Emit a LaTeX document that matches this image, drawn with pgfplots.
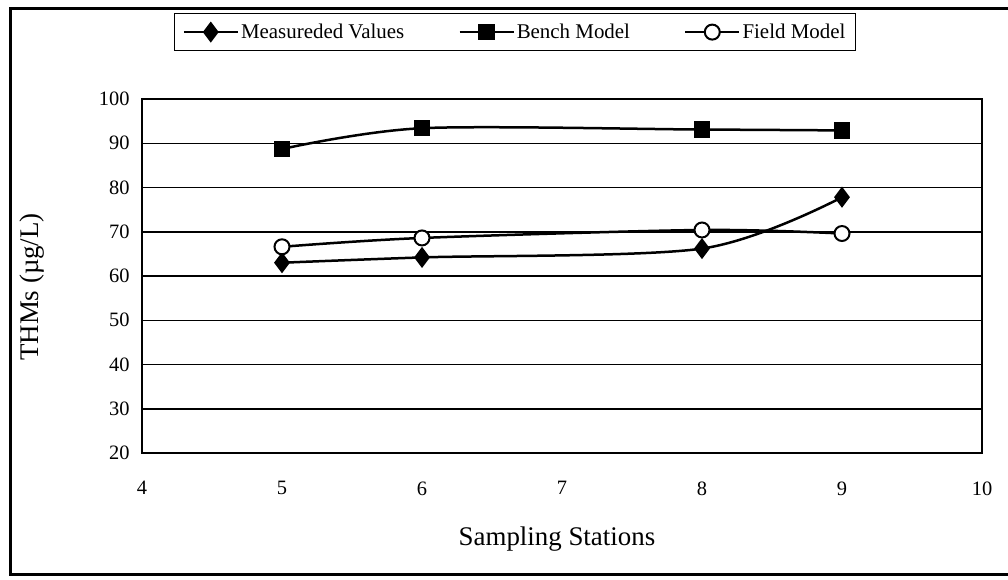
\documentclass[border=0pt]{standalone}
\usepackage{pgfplots}
\pgfplotsset{compat=1.18}
\usepackage{fontspec}
\setmainfont{Liberation Serif}
\begin{document}
\begin{tikzpicture}
\useasboundingbox (0,0) rectangle (1008bp,580bp);
\draw[line width=3bp] (1008bp,571bp) -- (10bp,571bp) -- (10bp,5bp) -- (1008bp,5bp);
\begin{axis}[
  at={(142bp,127bp)}, anchor=south west,
  scale only axis, width=840bp, height=354bp,
  xmin=4, xmax=10, ymin=20, ymax=100,
  xtick={4,5,6,7,8,9,10}, ytick={20,30,40,50,60,70,80,90,100},
  major tick length=0pt,
  ymajorgrids, grid style={black, line width=1.5bp},
  axis line style={line width=2bp},
  tick label style={font=\fontsize{20.5}{22}\selectfont},
  /pgf/number format/assume math mode=true,
  yticklabel style={xshift=-9bp},
  xticklabel style={yshift=-25bp},
  xlabel={Sampling Stations},
  ylabel={THMs (µg/L)},
  label style={font=\fontsize{27}{30}\selectfont},
  x label style={at={(axis description cs:0.494,0)}, anchor=center, yshift=-86bp},
  y label style={at={(axis description cs:-0.131,0.469)}, anchor=center},
  legend style={at={(0.444,1.189)}, anchor=center, draw=black, line width=1.5bp,
    legend columns=3, font=\fontsize{21}{23}\selectfont,
    /tikz/every even column/.append style={column sep=52bp},
    inner ysep=8.5bp, inner xsep=8bp},
  legend image code/.code={\draw[mark repeat=2,mark phase=2,#1] plot coordinates {(0bp,0bp) (27bp,0bp) (54bp,0bp)};},
]
\addplot[black, line width=2.5bp, smooth, mark=diamond*, mark size=8.5bp, mark options={solid, fill=black}]
  coordinates {(5,63.0) (6,64.2) (8,66.2) (9,77.8)};
\addlegendentry{Measureded Values}
\addplot[black, line width=2.5bp, smooth, mark=square*, mark size=7bp, mark options={solid, fill=black}]
  coordinates {(5,88.7) (6,93.4) (8,93.1) (9,92.9)};
\addlegendentry{Bench Model}
\addplot[black, line width=2.5bp, smooth, mark=*, mark size=7.5bp, mark options={solid, fill=white, line width=2bp}]
  coordinates {(5,66.6) (6,68.6) (8,70.4) (9,69.6)};
\addlegendentry{Field Model}
\end{axis}
\end{tikzpicture}
\end{document}
